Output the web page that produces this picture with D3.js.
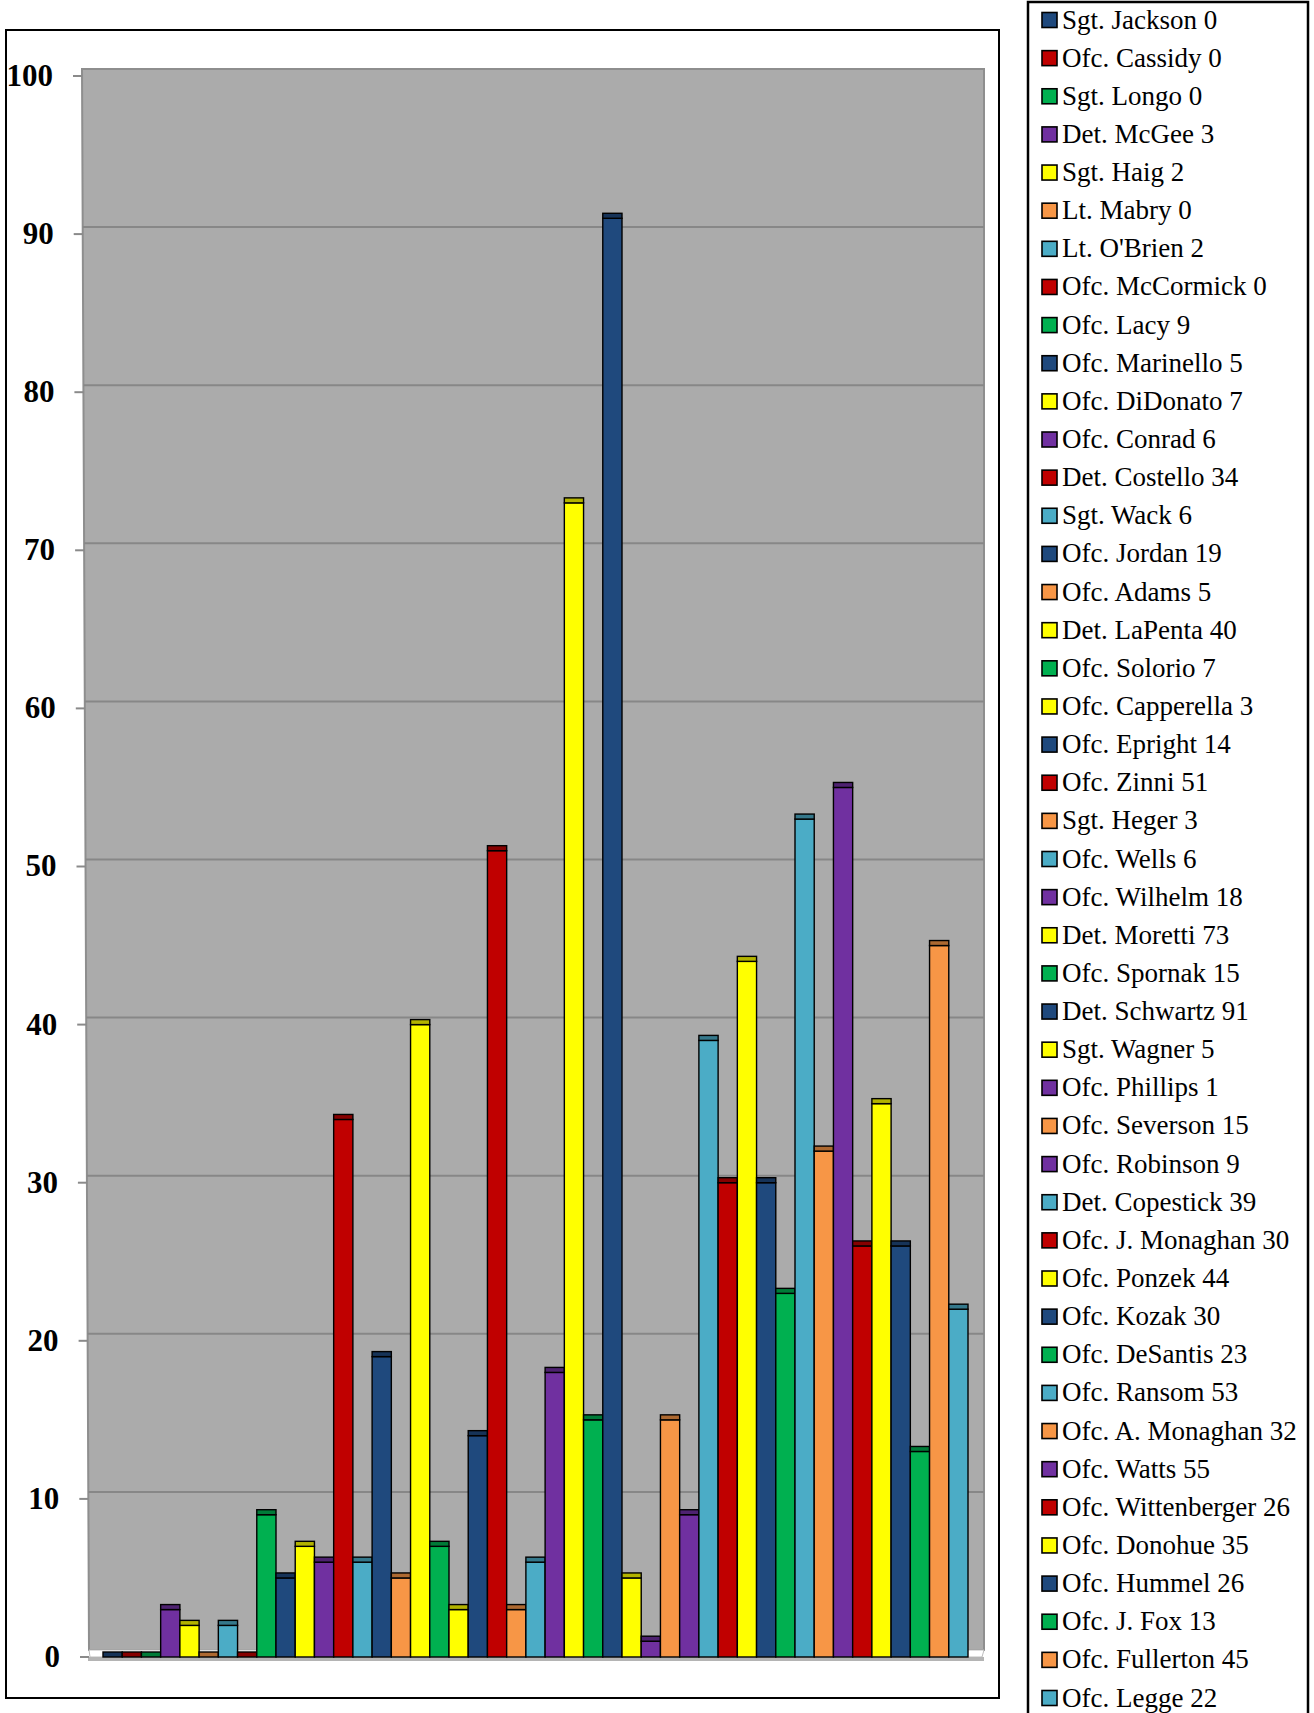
<!DOCTYPE html>
<meta charset="utf-8">
<style>
  body { margin: 0; background: #fff; }
  svg { display: block; }
</style>
<body>
<svg id="chart" width="1314" height="1713"></svg>
</body>
<script src="https://d3js.org/d3.v7.min.js"></script>
<script>

// officers, in legend / bar order
var names = [
  "Sgt. Jackson", "Ofc. Cassidy", "Sgt. Longo", "Det. McGee", "Sgt. Haig",
  "Lt. Mabry", "Lt. O'Brien", "Ofc. McCormick", "Ofc. Lacy", "Ofc. Marinello",
  "Ofc. DiDonato", "Ofc. Conrad", "Det. Costello", "Sgt. Wack", "Ofc. Jordan",
  "Ofc. Adams", "Det. LaPenta", "Ofc. Solorio", "Ofc. Capperella", "Ofc. Epright",
  "Ofc. Zinni", "Sgt. Heger", "Ofc. Wells", "Ofc. Wilhelm", "Det. Moretti",
  "Ofc. Spornak", "Det. Schwartz", "Sgt. Wagner", "Ofc. Phillips", "Ofc. Severson",
  "Ofc. Robinson", "Det. Copestick", "Ofc. J. Monaghan", "Ofc. Ponzek", "Ofc. Kozak",
  "Ofc. DeSantis", "Ofc. Ransom", "Ofc. A. Monaghan", "Ofc. Watts", "Ofc. Wittenberger",
  "Ofc. Donohue", "Ofc. Hummel", "Ofc. J. Fox", "Ofc. Fullerton", "Ofc. Legge"
];

var values = [
  0, 0, 0, 3, 2,
  0, 2, 0, 9, 5,
  7, 6, 34, 6, 19,
  5, 40, 7, 3, 14,
  51, 3, 6, 18, 73,
  15, 91, 5, 1, 15,
  9, 39, 30, 44, 30,
  23, 53, 32, 55, 26,
  35, 26, 13, 45, 22
];

// colour key per bar
var colorKeys = [
  "db", "r", "g", "p", "y",
  "o", "lb", "r", "g", "db",
  "y", "p", "r", "lb", "db",
  "o", "y", "g", "y", "db",
  "r", "o", "lb", "p", "y",
  "g", "db", "y", "p", "o",
  "p", "lb", "r", "y", "db",
  "g", "lb", "o", "p", "r",
  "y", "db", "g", "o", "lb"
];

var yTicks = [0, 10, 20, 30, 40, 50, 60, 70, 80, 90, 100];

var palette = {
  db: "#1F497D", r: "#C00000", g: "#00B050", p: "#7030A0",
  y: "#FFFF00", o: "#F79646", lb: "#4BACC6"
};

var data = names.map(function(n, i) {
  return { name: n, value: values[i], color: palette[colorKeys[i]] };
});

var svg = d3.select("#chart");

// ---- scales ----
var depth = 7;                       // 3d depth of the back wall
var y = d3.scaleLinear().domain([0, 100]).range([1657, 76]);
var slant = d3.scaleLinear().domain([0, 100]).range([89, 82]);   // left edge of the axis leans
var x = d3.scaleBand().domain(names).range([103, 968]).padding(0);
var wallRight = 984;

// ---- chart frame ----
svg.append("rect")
  .attr("x", 6).attr("y", 30)
  .attr("width", 993).attr("height", 1668)
  .attr("fill", "#fff")
  .attr("stroke", "#000")
  .attr("stroke-width", 2);

// ---- back wall ----
var wallTop = y(100) - depth, wallBottom = y(0) - depth;
svg.append("path")
  .attr("d", "M" + slant(100) + "," + wallTop +
             "L" + wallRight + "," + wallTop +
             "L" + wallRight + "," + wallBottom +
             "L" + slant(0) + "," + wallBottom + "Z")
  .attr("fill", "#ababab")
  .attr("stroke", "#8e8e8e")
  .attr("stroke-width", 2);

// gridlines
svg.append("g")
  .selectAll("line")
  .data(yTicks.filter(function(t) { return t > 0 && t < 100; }))
  .join("line")
    .attr("x1", function(d) { return slant(d); })
    .attr("x2", wallRight)
    .attr("y1", function(d) { return y(d) - depth; })
    .attr("y2", function(d) { return y(d) - depth; })
    .attr("stroke", "#878787")
    .attr("stroke-width", 2);

// ---- floor ----
svg.append("path")
  .attr("d", "M" + slant(0) + "," + wallBottom +
             "L" + wallRight + "," + wallBottom +
             "L" + (wallRight - 2) + "," + y(0) +
             "L" + (slant(0) + 1) + "," + y(0) + "Z")
  .attr("fill", "#fff")
  .attr("stroke", "#bdbdbd")
  .attr("stroke-width", 1);
svg.append("rect")
  .attr("x", slant(0) - 1).attr("y", y(0))
  .attr("width", wallRight - slant(0) + 1).attr("height", 4)
  .attr("fill", "#b4b4b4");

// ---- bars ----
var bars = svg.append("g")
  .selectAll("g")
  .data(data)
  .join("g");

bars.append("rect")
  .attr("x", function(d) { return x(d.name); })
  .attr("y", function(d) { return y(d.value); })
  .attr("width", x.bandwidth())
  .attr("height", function(d) { return y(0) - y(d.value); })
  .attr("fill", function(d) { return d.color; })
  .attr("stroke", "#000")
  .attr("stroke-width", 1.4);

// top face
bars.append("rect")
  .attr("x", function(d) { return x(d.name); })
  .attr("y", function(d) { return y(d.value) - 5; })
  .attr("width", x.bandwidth())
  .attr("height", 5)
  .attr("fill", function(d) { return d3.color(d.color).darker(1); })
  .attr("stroke", "#000")
  .attr("stroke-width", 1.4);

// ---- y axis ----
var axis = svg.append("g")
  .call(d3.axisLeft(y).tickValues(yTicks).tickSize(9).tickPadding(20));
axis.select(".domain").remove();
axis.selectAll(".tick")
  .attr("transform", function(d) { return "translate(" + slant(d) + "," + y(d) + ")"; });
axis.selectAll(".tick line")
  .attr("stroke", "#8a8a8a")
  .attr("stroke-width", 2);
axis.selectAll(".tick text")
  .attr("fill", "#000")
  .style("font-family", "'Liberation Serif', 'Times New Roman', serif")
  .style("font-weight", "bold")
  .style("font-size", "31px");

// ---- legend ----
svg.append("rect")
  .attr("x", 1028).attr("y", 2)
  .attr("width", 280).attr("height", 1730)
  .attr("fill", "#fff")
  .attr("stroke", "#000")
  .attr("stroke-width", 2.5);

var rowY = d3.scaleLinear().domain([0, names.length - 1]).range([20, 1698]);

var items = svg.append("g")
  .selectAll("g")
  .data(data)
  .join("g")
    .attr("transform", function(d, i) { return "translate(1042," + rowY(i) + ")"; });

items.append("rect")
  .attr("x", 0).attr("y", -7.5)
  .attr("width", 15).attr("height", 15)
  .attr("fill", function(d) { return d.color; })
  .attr("stroke", "#000")
  .attr("stroke-width", 1.6);

items.append("text")
  .attr("x", 20)
  .attr("y", 8.5)
  .style("font-family", "'Liberation Serif', 'Times New Roman', serif")
  .style("font-size", "27px")
  .attr("fill", "#000")
  .text(function(d) { return d.name + " " + d.value; });

</script>
